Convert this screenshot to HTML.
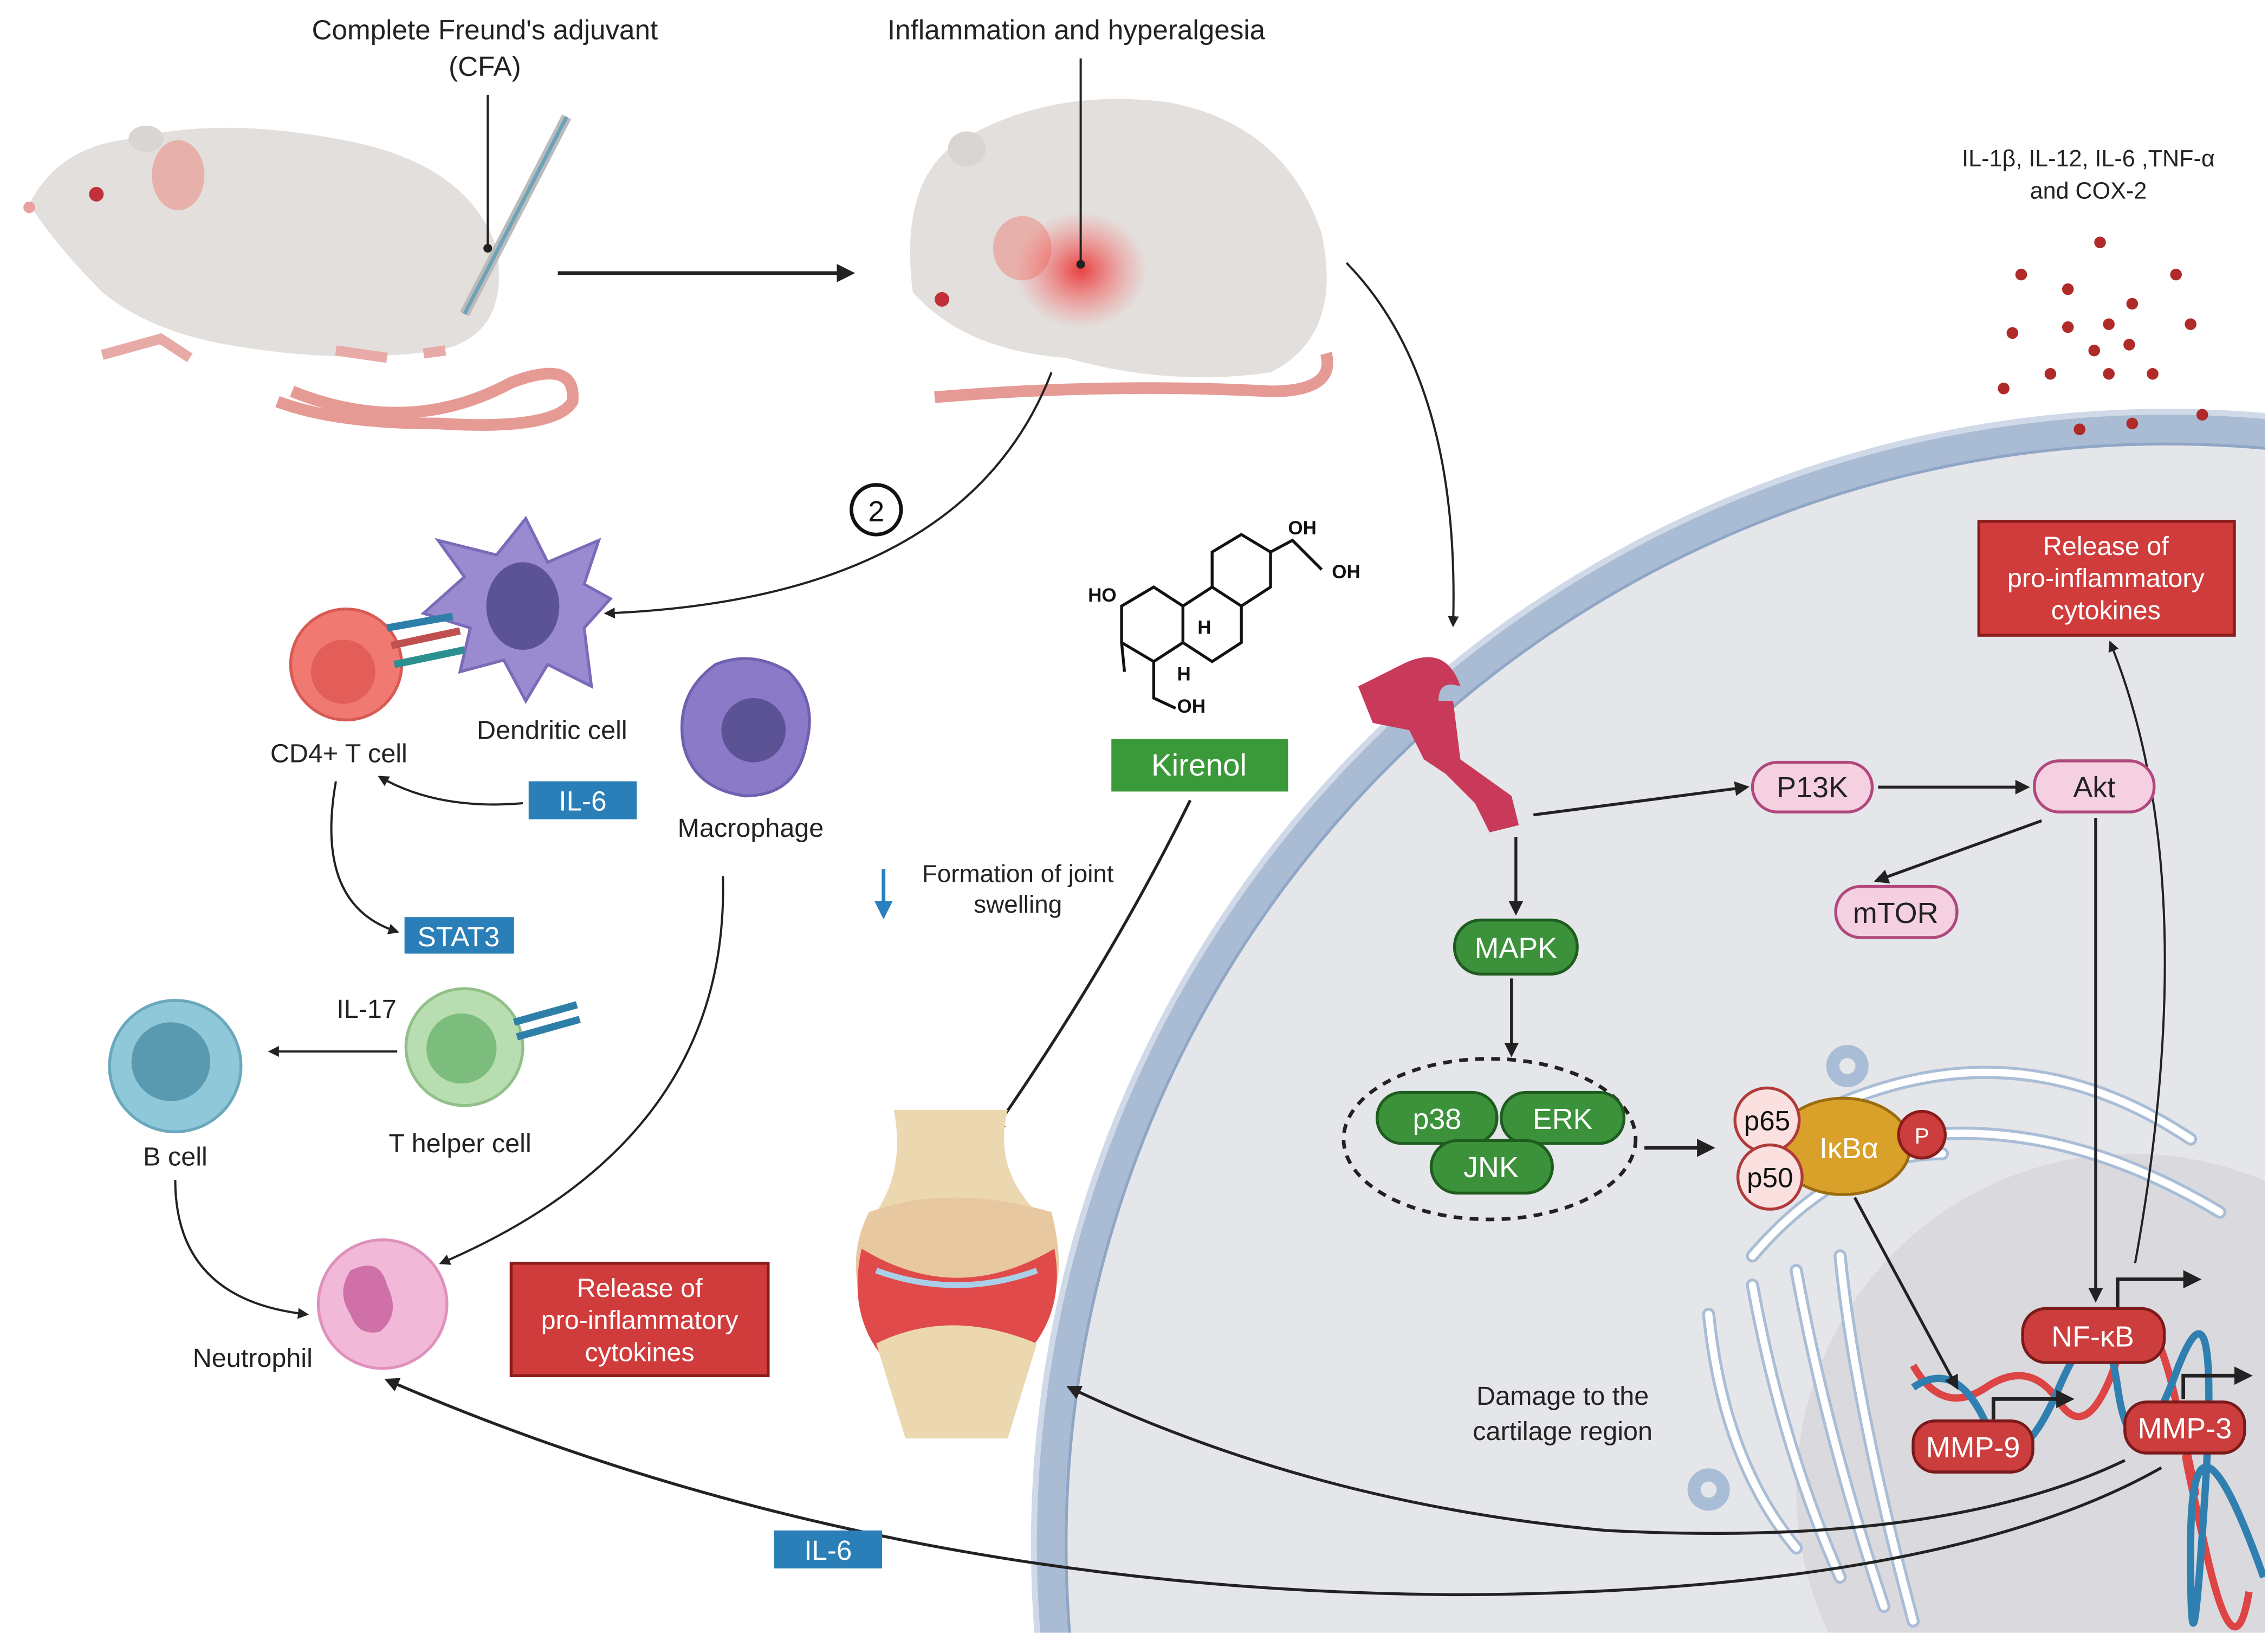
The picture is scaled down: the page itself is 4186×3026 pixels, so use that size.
<!DOCTYPE html>
<html><head><meta charset="utf-8"><style>
html,body{margin:0;padding:0;background:#fff;overflow:hidden;width:4186px;height:3026px;}
svg{display:block;position:absolute;left:0;top:0;}
text{font-family:"Liberation Sans",sans-serif;}
</style></head><body>
<svg width="4186" height="3026" viewBox="0 0 1553 1123" preserveAspectRatio="none" xmlns="http://www.w3.org/2000/svg">
<defs>
<marker id="ah" viewBox="0 0 10 10" refX="8" refY="5" markerWidth="5" markerHeight="5" orient="auto"><path d="M0,0 L10,5 L0,10 z" fill="#222"/></marker>
<marker id="ahb" viewBox="0 0 10 10" refX="8" refY="5" markerWidth="5" markerHeight="5" orient="auto"><path d="M0,0 L10,5 L0,10 z" fill="#2a7fc0"/></marker>
<clipPath id="cc"><rect x="0" y="0" width="1551" height="1118"/></clipPath>
<radialGradient id="inf"><stop offset="0" stop-color="#e83030" stop-opacity="0.9"/><stop offset="1" stop-color="#ff6060" stop-opacity="0"/></radialGradient>
</defs>

<g clip-path="url(#cc)">
<circle cx="1484" cy="1058" r="766" fill="#e5e6ea"/>
<circle cx="1484" cy="1058" r="766" fill="none" stroke="#aabbd4" stroke-width="24"/>
<circle cx="1484" cy="1058" r="776" fill="none" stroke="#cfd9e8" stroke-width="4"/>
<circle cx="1484" cy="1058" r="754" fill="none" stroke="#8fa6c6" stroke-width="2"/>
<circle cx="1460" cy="1020" r="230" fill="#d9d9de"/>
<g fill="none" stroke="#a9bdd6" stroke-width="9" stroke-linecap="round">
<path d="M1250,760 Q1380,700 1500,780"/>
<path d="M1230,800 Q1370,740 1520,830"/>
<path d="M1200,860 Q1260,790 1330,790"/>
<path d="M1170,900 Q1180,1000 1230,1060"/>
<path d="M1200,880 Q1220,990 1260,1080"/>
<path d="M1230,870 Q1250,980 1290,1100"/>
<path d="M1260,860 Q1270,960 1310,1110"/>
<circle cx="1265" cy="730" r="10"/>
<circle cx="1170" cy="1020" r="10"/>
</g>
<g fill="none" stroke="#fff" stroke-width="5" stroke-linecap="round">
<path d="M1250,760 Q1380,700 1500,780"/>
<path d="M1230,800 Q1370,740 1520,830"/>
<path d="M1200,860 Q1260,790 1330,790"/>
<path d="M1170,900 Q1180,1000 1230,1060"/>
<path d="M1200,880 Q1220,990 1260,1080"/>
<path d="M1230,870 Q1250,980 1290,1100"/>
<path d="M1260,860 Q1270,960 1310,1110"/>
</g>
<g fill="none" stroke-width="5">
<path d="M1310,935 Q1330,970 1360,950 T1410,960 T1450,930 T1490,960 T1500,1010 T1510,1060 T1540,1090" stroke="#d44"/>
<path d="M1310,950 Q1340,930 1360,975 T1410,950 T1450,950 T1490,940 T1510,1020 T1500,1060 T1550,1080" stroke="#2f80b0"/>
</g>
</g>

<!-- Mouse 1 -->
<g>
<path d="M200,268 Q280,300 350,262 Q395,245 392,275 Q380,295 300,290 Q230,290 190,275" fill="none" stroke="#e59a94" stroke-width="8"/>
<path d="M20,140 Q40,100 90,95 Q150,80 230,95 Q320,110 340,170 Q350,230 300,240 Q230,250 150,235 Q100,225 70,200 Q40,170 20,140Z" fill="#e2dfdc"/>
<ellipse cx="122" cy="120" rx="18" ry="24" fill="#e8b0aa"/>
<ellipse cx="100" cy="95" rx="12" ry="9" fill="#d8d5d2"/>
<circle cx="66" cy="133" r="5" fill="#c2303a"/>
<circle cx="20" cy="142" r="4" fill="#e8a0a0"/>
<path d="M70,243 L110,232 L130,245 M230,240 L265,245 M290,242 L305,240" stroke="#e8aaa6" stroke-width="7" fill="none"/>
</g>
<line x1="388" y1="80" x2="318" y2="215" stroke="#bbb" stroke-width="7"/>
<line x1="388" y1="80" x2="318" y2="215" stroke="#6ca3b8" stroke-width="2.5"/>
<line x1="334" y1="65" x2="334" y2="170" stroke="#222" stroke-width="1.5"/>
<circle cx="334" cy="170" r="3" fill="#222"/>
<text x="332" y="27" font-size="19" text-anchor="middle" fill="#222">Complete Freund's adjuvant</text>
<text x="332" y="52" font-size="19" text-anchor="middle" fill="#222">(CFA)</text>
<line x1="382" y1="187" x2="583" y2="187" stroke="#222" stroke-width="2.5" marker-end="url(#ah)"/>

<!-- Mouse 2 -->
<g>
<path d="M640,272 Q760,262 870,268 Q915,268 908,242" fill="none" stroke="#e59a94" stroke-width="8"/>
<path d="M625,200 Q615,120 660,95 Q720,60 800,70 Q880,85 905,160 Q920,230 870,255 Q800,265 730,245 Q660,240 625,200Z" fill="#e2dfdc"/>
<ellipse cx="700" cy="170" rx="20" ry="22" fill="#e8b0aa"/>
<ellipse cx="662" cy="102" rx="13" ry="12" fill="#d8d5d2"/>
<circle cx="645" cy="205" r="5" fill="#c2303a"/>
<ellipse cx="740" cy="185" rx="45" ry="40" fill="url(#inf)"/>
</g>
<line x1="740" y1="40" x2="740" y2="180" stroke="#222" stroke-width="1.5"/>
<circle cx="740" cy="181" r="3" fill="#222"/>
<text x="737" y="27" font-size="19" text-anchor="middle" fill="#222">Inflammation and hyperalgesia</text>
<path d="M922,180 Q1000,260 995,428" fill="none" stroke="#222" stroke-width="1.5" marker-end="url(#ah)"/>

<text x="1430" y="114" font-size="16" text-anchor="middle" fill="#222">IL-1β, IL-12, IL-6 ,TNF-α</text>
<text x="1430" y="136" font-size="16" text-anchor="middle" fill="#222">and COX-2</text>
<g fill="#b02a2a">
<circle cx="1438" cy="166" r="4"/><circle cx="1384" cy="188" r="4"/><circle cx="1490" cy="188" r="4"/><circle cx="1416" cy="198" r="4"/><circle cx="1460" cy="208" r="4"/><circle cx="1444" cy="222" r="4"/><circle cx="1416" cy="224" r="4"/><circle cx="1500" cy="222" r="4"/><circle cx="1378" cy="228" r="4"/><circle cx="1434" cy="240" r="4"/><circle cx="1458" cy="236" r="4"/><circle cx="1404" cy="256" r="4"/><circle cx="1444" cy="256" r="4"/><circle cx="1474" cy="256" r="4"/><circle cx="1372" cy="266" r="4"/><circle cx="1424" cy="294" r="4"/><circle cx="1460" cy="290" r="4"/><circle cx="1508" cy="284" r="4"/>
</g>
<rect x="1355" y="357" width="175" height="78" fill="#d03c3c" stroke="#8a1c1c" stroke-width="2"/>
<text font-size="18" fill="#fff" text-anchor="middle"><tspan x="1442" y="380">Release of</tspan><tspan x="1442" y="402">pro-inflammatory</tspan><tspan x="1442" y="424">cytokines</tspan></text>
<path d="M1462,865 Q1510,600 1445,440" fill="none" stroke="#222" stroke-width="1.5" marker-end="url(#ah)"/>

<circle cx="600" cy="349" r="17" fill="#fff" stroke="#111" stroke-width="2.5"/>
<text x="600" y="357" font-size="20" text-anchor="middle" fill="#111">2</text>
<path d="M720,255 Q660,410 415,420" fill="none" stroke="#222" stroke-width="1.5" marker-end="url(#ah)"/>

<circle cx="237" cy="455" r="38" fill="#f07a72" stroke="#d85a55" stroke-width="2"/>
<circle cx="235" cy="460" r="22" fill="#e35e58"/>
<path d="M360,355 L375,385 L410,370 L400,400 L418,410 L400,430 L405,470 L375,455 L360,480 L345,452 L315,460 L322,430 L290,420 L318,395 L300,370 L340,380 Z" fill="#9a8ad0" stroke="#7a6ab8" stroke-width="2"/>
<ellipse cx="358" cy="415" rx="25" ry="30" fill="#5c5296"/>
<g stroke-width="5"><line x1="265" y1="430" x2="310" y2="422" stroke="#2d7fa8"/><line x1="268" y1="442" x2="315" y2="432" stroke="#c05050"/><line x1="270" y1="455" x2="318" y2="445" stroke="#2d9090"/></g>
<path d="M490,455 Q515,445 540,460 Q560,480 552,510 Q545,545 510,545 Q475,540 468,510 Q462,475 490,455Z" fill="#8a7ac8" stroke="#7060b0" stroke-width="2"/>
<ellipse cx="516" cy="500" rx="22" ry="22" fill="#5c5296"/>
<text x="232" y="522" font-size="18" text-anchor="middle" fill="#222">CD4+ T cell</text>
<text x="378" y="506" font-size="18" text-anchor="middle" fill="#222">Dendritic cell</text>
<text x="514" y="573" font-size="18" text-anchor="middle" fill="#222">Macrophage</text>
<rect x="362" y="535" width="74" height="26" fill="#2a7fb8"/>
<text x="399" y="555" font-size="19" text-anchor="middle" fill="#fff">IL-6</text>
<path d="M358,550 Q300,555 260,532" fill="none" stroke="#222" stroke-width="1.5" marker-end="url(#ah)"/>
<path d="M230,535 Q215,620 272,638" fill="none" stroke="#222" stroke-width="1.5" marker-end="url(#ah)"/>
<rect x="277" y="628" width="75" height="25" fill="#2a7fb8"/>
<text x="314" y="648" font-size="19" text-anchor="middle" fill="#fff">STAT3</text>

<circle cx="120" cy="730" r="45" fill="#8fc8d8" stroke="#6aa8bc" stroke-width="2"/>
<circle cx="117" cy="727" r="27" fill="#5a9ab0"/>
<circle cx="318" cy="717" r="40" fill="#b8ddb0" stroke="#90c088" stroke-width="2"/>
<circle cx="316" cy="718" r="24" fill="#7cbc7c"/>
<g stroke="#2d7fa8" stroke-width="5"><line x1="352" y1="700" x2="395" y2="688"/><line x1="354" y1="710" x2="397" y2="698"/></g>
<text x="251" y="697" font-size="18" text-anchor="middle" fill="#222">IL-17</text>
<line x1="272" y1="720" x2="185" y2="720" stroke="#222" stroke-width="1.5" marker-end="url(#ah)"/>
<text x="120" y="798" font-size="18" text-anchor="middle" fill="#222">B cell</text>
<text x="315" y="789" font-size="18" text-anchor="middle" fill="#222">T helper cell</text>
<circle cx="262" cy="893" r="44" fill="#f2b8d8" stroke="#e090bc" stroke-width="2"/>
<path d="M240,870 Q260,860 265,880 Q275,900 260,912 Q245,915 240,900 Q230,885 240,870Z" fill="#d070a8"/>
<text x="173" y="936" font-size="18" text-anchor="middle" fill="#222">Neutrophil</text>
<path d="M120,808 Q120,890 210,900" fill="none" stroke="#222" stroke-width="1.5" marker-end="url(#ah)"/>
<path d="M495,600 Q500,780 302,865" fill="none" stroke="#222" stroke-width="1.5" marker-end="url(#ah)"/>
<rect x="350" y="865" width="176" height="77" fill="#d03c3c" stroke="#8a1c1c" stroke-width="2"/>
<text font-size="18" fill="#fff" text-anchor="middle"><tspan x="438" y="888">Release of</tspan><tspan x="438" y="910">pro-inflammatory</tspan><tspan x="438" y="932">cytokines</tspan></text>

<g fill="none" stroke="#111" stroke-width="2">
<path d="M768,415 L790,402 L810,415 L810,440 L790,453 L768,440 Z"/>
<path d="M810,415 L830,402 L850,415 L850,440 L830,453 L810,440"/>
<path d="M830,402 L830,378 L850,366 L870,378 L870,402 L850,415"/>
<path d="M870,378 L885,370 L905,390"/>
<path d="M790,453 L790,478 L805,485"/>
<path d="M768,440 L770,460"/>
</g>
<text x="745" y="412" font-size="13" font-weight="bold" fill="#111">HO</text>
<text x="882" y="366" font-size="13" font-weight="bold" fill="#111">OH</text>
<text x="912" y="396" font-size="13" font-weight="bold" fill="#111">OH</text>
<text x="806" y="488" font-size="13" font-weight="bold" fill="#111">OH</text>
<text x="820" y="434" font-size="13" font-weight="bold" fill="#111">H</text>
<text x="806" y="466" font-size="13" font-weight="bold" fill="#111">H</text>
<rect x="761" y="506" width="121" height="36" fill="#3a9a3a"/>
<text x="821" y="531" font-size="21" text-anchor="middle" fill="#fff">Kirenol</text>
<path d="M815,548 Q760,660 680,775" fill="none" stroke="#222" stroke-width="2" marker-end="url(#ah)"/>
<line x1="605" y1="595" x2="605" y2="627" stroke="#2a7fc0" stroke-width="2.5" marker-end="url(#ahb)"/>
<text x="697" y="604" font-size="17" text-anchor="middle" fill="#222">Formation of joint</text>
<text x="697" y="625" font-size="17" text-anchor="middle" fill="#222">swelling</text>

<g>
<path d="M612,760 L690,760 Q680,800 710,830 L600,830 Q620,800 612,760Z" fill="#ecd8b0"/>
<path d="M595,830 Q650,810 720,830 Q730,870 720,890 L590,890 Q580,860 595,830Z" fill="#e8c8a0"/>
<path d="M590,855 Q655,895 722,855 Q730,900 700,930 Q650,910 605,930 Q580,900 590,855Z" fill="#e14a4a"/>
<path d="M600,870 Q655,890 710,870" fill="none" stroke="#a9d0e8" stroke-width="4"/>
<path d="M600,920 Q650,895 710,920 L690,985 L620,985 Z" fill="#ecd8b0"/>
</g>

<path d="M960,455 Q990,440 1000,470 Q985,465 985,480 L995,480 L1000,520 L1035,545 L1040,565 L1020,570 L1010,550 L990,530 L975,520 L965,500 L940,495 L930,470 Z" fill="#c8395a"/>
<line x1="1050" y1="558" x2="1196" y2="539" stroke="#222" stroke-width="2" marker-end="url(#ah)"/>
<line x1="1038" y1="573" x2="1038" y2="625" stroke="#222" stroke-width="2" marker-end="url(#ah)"/>

<g font-size="20" text-anchor="middle">
<rect x="1200" y="522" width="82" height="34" rx="17" fill="#f5d0e0" stroke="#b0487e" stroke-width="2"/>
<text x="1241" y="546" fill="#222">P13K</text>
<rect x="1393" y="521" width="82" height="35" rx="17" fill="#f5d0e0" stroke="#b0487e" stroke-width="2"/>
<text x="1434" y="546" fill="#222">Akt</text>
<rect x="1257" y="607" width="83" height="35" rx="17" fill="#f5d0e0" stroke="#b0487e" stroke-width="2"/>
<text x="1298" y="632" fill="#222">mTOR</text>
<rect x="996" y="630" width="84" height="37" rx="18" fill="#3b923b" stroke="#1f5c1f" stroke-width="2"/>
<text x="1038" y="656" fill="#fff">MAPK</text>
</g>
<line x1="1286" y1="539" x2="1388" y2="539" stroke="#222" stroke-width="2" marker-end="url(#ah)"/>
<line x1="1398" y1="562" x2="1285" y2="603" stroke="#222" stroke-width="2" marker-end="url(#ah)"/>
<line x1="1435" y1="560" x2="1435" y2="890" stroke="#222" stroke-width="2" marker-end="url(#ah)"/>
<line x1="1035" y1="670" x2="1035" y2="722" stroke="#222" stroke-width="2" marker-end="url(#ah)"/>
<ellipse cx="1020" cy="780" rx="100" ry="55" fill="none" stroke="#222" stroke-width="2.5" stroke-dasharray="6,5"/>
<g font-size="20" text-anchor="middle" fill="#fff">
<rect x="943" y="748" width="82" height="35" rx="17" fill="#3b923b" stroke="#1f5c1f" stroke-width="2"/>
<text x="984" y="773">p38</text>
<rect x="1028" y="748" width="84" height="35" rx="17" fill="#3b923b" stroke="#1f5c1f" stroke-width="2"/>
<text x="1070" y="773">ERK</text>
<rect x="980" y="781" width="83" height="36" rx="18" fill="#3b923b" stroke="#1f5c1f" stroke-width="2"/>
<text x="1021" y="806">JNK</text>
</g>
<line x1="1126" y1="786" x2="1172" y2="786" stroke="#222" stroke-width="2.5" marker-end="url(#ah)"/>
<ellipse cx="1262" cy="785" rx="46" ry="33" fill="#d9a02a" stroke="#9a6c10" stroke-width="2"/>
<text x="1266" y="793" font-size="20" text-anchor="middle" fill="#fff">IκBα</text>
<circle cx="1210" cy="767" r="22" fill="#fbe0e0" stroke="#b03a3a" stroke-width="2"/>
<text x="1210" y="774" font-size="19" text-anchor="middle" fill="#111">p65</text>
<circle cx="1212" cy="806" r="22" fill="#fbe0e0" stroke="#b03a3a" stroke-width="2"/>
<text x="1212" y="813" font-size="19" text-anchor="middle" fill="#111">p50</text>
<circle cx="1316" cy="777" r="16" fill="#cc3d3d" stroke="#8a1c1c" stroke-width="2"/>
<text x="1316" y="783" font-size="15" text-anchor="middle" fill="#fff">P</text>
<line x1="1270" y1="820" x2="1340" y2="950" stroke="#222" stroke-width="2" marker-end="url(#ah)"/>

<g font-size="20" text-anchor="middle" fill="#fff">
<rect x="1385" y="896" width="97" height="37" rx="16" fill="#cc3d3d" stroke="#7a1a1a" stroke-width="2"/>
<text x="1433" y="922">NF-κB</text>
<rect x="1310" y="973" width="82" height="35" rx="15" fill="#cc3d3d" stroke="#7a1a1a" stroke-width="2"/>
<text x="1351" y="998">MMP-9</text>
<rect x="1455" y="960" width="82" height="35" rx="15" fill="#cc3d3d" stroke="#7a1a1a" stroke-width="2"/>
<text x="1496" y="985">MMP-3</text>
</g>
<g fill="none" stroke="#222" stroke-width="2.5">
<path d="M1450,895 L1450,876 L1505,876" marker-end="url(#ah)"/>
<path d="M1495,958 L1495,942 L1540,942" marker-end="url(#ah)"/>
<path d="M1365,972 L1365,958 L1418,958" marker-end="url(#ah)"/>
</g>
<text x="1070" y="962" font-size="18" text-anchor="middle" fill="#222">Damage to the</text>
<text x="1070" y="986" font-size="18" text-anchor="middle" fill="#222">cartilage region</text>

<path d="M1455,1000 Q1330,1060 1100,1048 Q900,1030 732,950" fill="none" stroke="#222" stroke-width="2" marker-end="url(#ah)"/>
<path d="M1480,1005 Q1330,1090 1000,1092 Q600,1090 265,945" fill="none" stroke="#222" stroke-width="2" marker-end="url(#ah)"/>
<rect x="530" y="1048" width="74" height="26" fill="#2a7fb8"/>
<text x="567" y="1068" font-size="19" text-anchor="middle" fill="#fff">IL-6</text>
</svg>
</body></html>
